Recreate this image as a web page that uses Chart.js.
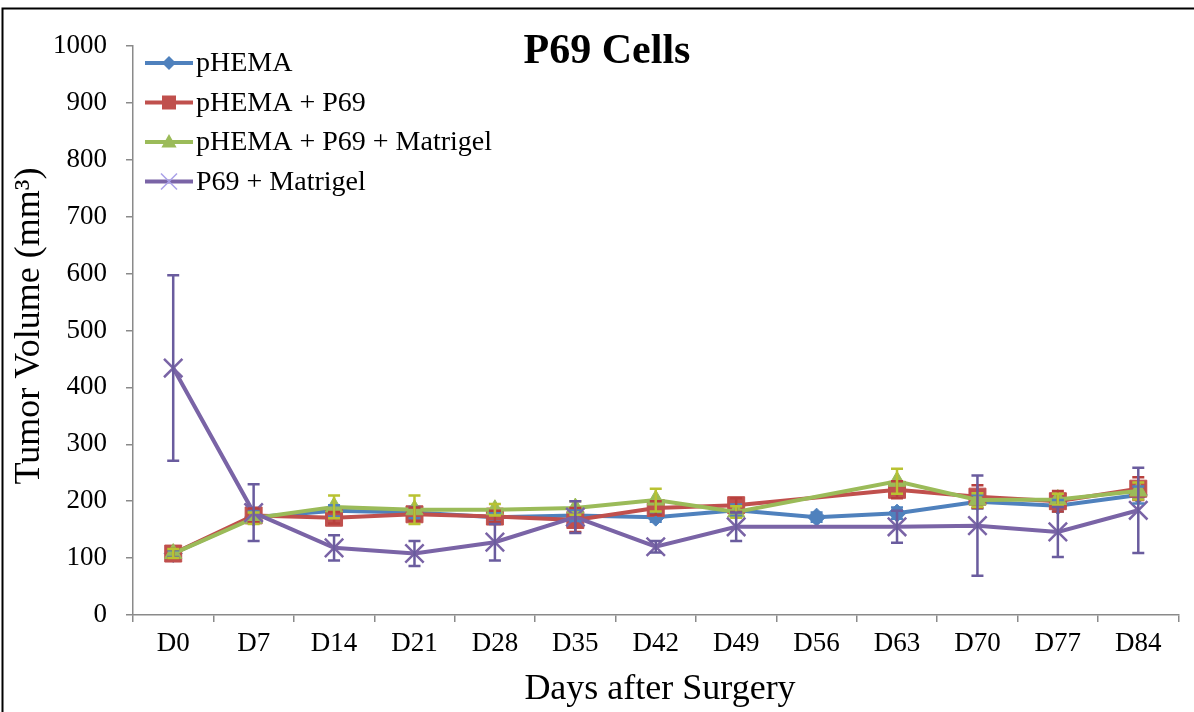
<!DOCTYPE html>
<html>
<head>
<meta charset="utf-8">
<script src="https://cdn.jsdelivr.net/npm/chart.js@4.4.1/dist/chart.umd.min.js"></script>
<style>
html,body{margin:0;padding:0;background:#fff;}
#wrap{position:relative;width:1194px;height:712px;}
</style>
</head>
<body>
<div id="wrap"><canvas id="c"></canvas></div>
<script>
const categories = ['D0','D7','D14','D21','D28','D35','D42','D49','D56','D63','D70','D77','D84'];
const seriesNames = ['pHEMA','pHEMA + P69','pHEMA + P69 + Matrigel','P69 + Matrigel'];

const pHEMA        = [108,172,183,180,172,175,172,184,172,179,199,192,211];
const pHEMAErr     = [6,10,10,10,8,10,8,10,8,10,12,10,15];
const pHEMA_P69    = [108,175,171,177,173,167,188,193,null,220,208,200,222];
const pHEMA_P69Err = [8,12,10,12,10,21,12,12,null,15,20,18,20];
const pHEMA_P69_Mat    = [108,170,190,185,185,188,202,181,null,235,202,203,218];
const pHEMA_P69_MatErr = [8,10,20,25,10,12,20,10,null,22,12,10,15];
const P69_Mat      = [434,180,118,108,128,172,120,155,null,155,157,146,184];
const P69_MatErr   = [163,50,22,22,32,28,10,25,null,28,88,44,75];

const yMin = 0, yMax = 1000, yStep = 100;

const chartTitle = 'P69 Cells';
const xTitle = 'Days after Surgery';
const yTitle = 'Tumor Volume (mm\u00B3)';

const FONT = '"Liberation Serif", "Times New Roman", serif';

function drawMarker(ctx, style, x, y, r, fill, stroke) {
  ctx.save();
  ctx.fillStyle = fill; ctx.strokeStyle = stroke; ctx.lineWidth = 1.5;
  ctx.beginPath();
  if (style === 'rectRot') {
    ctx.moveTo(x - r, y); ctx.lineTo(x, y - r); ctx.lineTo(x + r, y); ctx.lineTo(x, y + r); ctx.closePath();
    ctx.fill();
  } else if (style === 'rect') {
    ctx.rect(x - r, y - r, 2 * r, 2 * r); ctx.fill();
  } else if (style === 'triangle') {
    ctx.moveTo(x, y - r); ctx.lineTo(x + r * 0.95, y + r * 0.7); ctx.lineTo(x - r * 0.95, y + r * 0.7); ctx.closePath(); ctx.fill();
  } else if (style === 'crossRot') {
    ctx.lineWidth = 1.5;
    ctx.moveTo(x - r, y - r); ctx.lineTo(x + r, y + r); ctx.moveTo(x + r, y - r); ctx.lineTo(x - r, y + r); ctx.stroke();
  }
  ctx.restore();
}

const decorations = {
  id: 'decorations',
  afterDatasetsDraw(chart) {
    const {ctx} = chart;
    const ys = chart.scales.y;
    chart.data.datasets.forEach((ds, di) => {
      const meta = chart.getDatasetMeta(di);
      meta.data.forEach((pt, i) => {
        const v = ds.data[i], e = ds.errors[i];
        if (v == null || e == null) return;
        const x = pt.x;
        const yt = ys.getPixelForValue(v + e), yb = ys.getPixelForValue(v - e);
        ctx.save();
        ctx.strokeStyle = ds.errorColor; ctx.lineWidth = 2.5;
        ctx.beginPath();
        ctx.moveTo(x, yt); ctx.lineTo(x, yb);
        ctx.moveTo(x - 6, yt); ctx.lineTo(x + 6, yt);
        ctx.moveTo(x - 6, yb); ctx.lineTo(x + 6, yb);
        ctx.stroke();
        ctx.restore();
      });
    });
  },
  afterDraw(chart) {
    const {ctx} = chart;
    ctx.save();
    ctx.strokeStyle = '#000'; ctx.lineWidth = 2;
    ctx.beginPath();
    ctx.moveTo(2.5, 712); ctx.lineTo(2.5, 8.5); ctx.lineTo(1194, 8.5);
    ctx.stroke();
    ctx.fillStyle = '#000';
    ctx.font = 'bold 42px ' + FONT;
    ctx.textAlign = 'center'; ctx.textBaseline = 'middle';
    ctx.fillText(chartTitle, 607, 52);
    ctx.font = '36px ' + FONT;
    ctx.fillText(xTitle, 660, 690);
    ctx.save();
    ctx.translate(30, 326); ctx.rotate(-Math.PI / 2);
    ctx.fillText(yTitle, 0, 0);
    ctx.restore();
    ctx.font = '28px ' + FONT;
    ctx.textAlign = 'left';
    chart.data.datasets.forEach((ds, i) => {
      const y = 63 + i * 39.5;
      ctx.strokeStyle = ds.borderColor; ctx.lineWidth = 4;
      ctx.beginPath(); ctx.moveTo(145, y); ctx.lineTo(193, y); ctx.stroke();
      drawMarker(ctx, ds.pointStyle, 169, y, ds.legendR, ds.legendFill, ds.legendFill);
      ctx.fillStyle = '#000';
      ctx.fillText(ds.label, 196, y + 1);
    });
    ctx.restore();
  }
};

const datasets = [
  {label: seriesNames[0], data: pHEMA, errors: pHEMAErr, borderColor: '#4F81BD', pointBackgroundColor: '#4F81BD', pointBorderColor: '#4F81BD',
   pointStyle: 'rectRot', pointRadius: 9, errorColor: '#4F81BD', order: 4, legendR: 7, legendFill: '#4F81BD'},
  {label: seriesNames[1], data: pHEMA_P69, errors: pHEMA_P69Err, borderColor: '#C0504D', pointBackgroundColor: '#C0504D', pointBorderColor: '#C0504D',
   pointStyle: 'rect', pointRadius: 12, errorColor: '#B8403D', order: 3, legendR: 7, legendFill: '#C0504D'},
  {label: seriesNames[2], data: pHEMA_P69_Mat, errors: pHEMA_P69_MatErr, borderColor: '#9BBB59', pointBackgroundColor: '#9BBB59', pointBorderColor: '#9BBB59',
   pointStyle: 'triangle', pointRadius: 10, errorColor: '#B9C232', order: 2, legendR: 8, legendFill: '#9BBB59'},
  {label: seriesNames[3], data: P69_Mat, errors: P69_MatErr, borderColor: '#7A64A6', pointBackgroundColor: '#7A64A6', pointBorderColor: '#7A64A6',
   pointStyle: 'crossRot', pointRadius: 13, pointBorderWidth: 2.5, errorColor: '#6A5C9E', order: 1, legendR: 8, legendFill: '#A9A0E8'}
].map(d => Object.assign({borderWidth: 4, pointBorderWidth: d.pointBorderWidth || 1, tension: 0, spanGaps: true, fill: false}, d));

new Chart(document.getElementById('c'), {
  type: 'line',
  data: {labels: categories, datasets},
  options: {
    responsive: true, maintainAspectRatio: false, animation: false,
    layout: {padding: {left: 0, top: 46, right: 3, bottom: 0}},
    plugins: {legend: {display: false}, title: {display: false}, tooltip: {enabled: false}},
    scales: {
      x: {
        offset: true,
        grid: {offset: true, drawOnChartArea: false, drawTicks: true, tickLength: 7, color: '#8a8a8a', lineWidth: 1.5},
        border: {color: '#8a8a8a', width: 1.5},
        ticks: {font: {family: FONT, size: 27}, color: '#000', padding: 6},
        afterFit(s) { s.height = 97; }
      },
      y: {
        min: yMin, max: yMax,
        grid: {drawOnChartArea: false, drawTicks: true, tickLength: 7, color: '#8a8a8a', lineWidth: 1.5},
        border: {color: '#8a8a8a', width: 1.5},
        ticks: {stepSize: yStep, font: {family: FONT, size: 27}, color: '#000', padding: 19,
                callback: v => String(v)},
        afterFit(s) { s.width = 133; }
      }
    }
  },
  plugins: [decorations]
});
</script>
</body>
</html>
